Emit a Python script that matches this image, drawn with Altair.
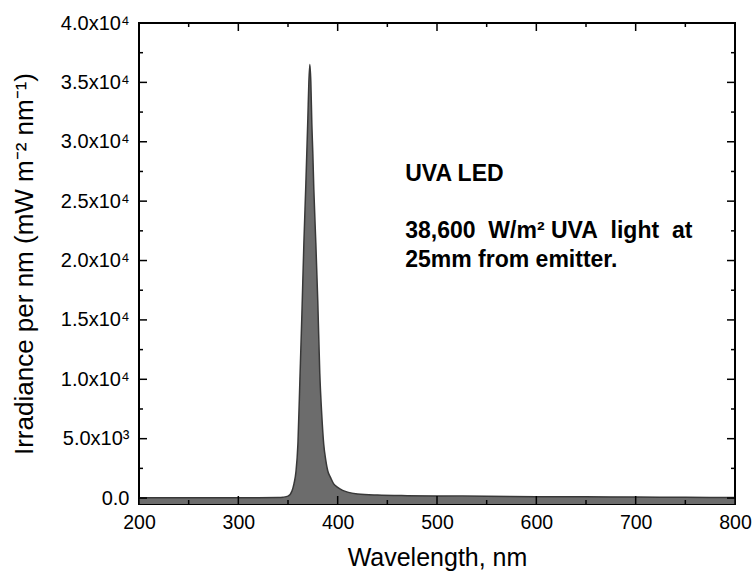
import altair as alt
import pandas as pd

# Spectrum (wavelength nm, irradiance mW m-2 nm-1)
wavelength = [200, 250, 300, 320, 340, 345, 350, 354, 356, 358, 360, 362, 364, 366,
              368, 370, 371, 372, 373, 374, 375, 376, 378, 380, 382, 384, 386, 388,
              390, 393, 396, 400, 405, 410, 420, 440, 470, 500, 550, 600, 650, 700,
              750, 800]
irradiance = [20, 20, 25, 25, 40, 70, 160, 600, 1200, 2200, 4600, 10000, 15500, 21500,
              26500, 32000, 35000, 36500, 35000, 31500, 29000, 26000, 21500, 16500,
              10500, 7000, 4500, 3200, 2300, 1700, 1200, 900, 650, 500, 350, 250, 200,
              180, 150, 120, 100, 80, 60, 50]

x_major = [200, 300, 400, 500, 600, 700, 800]
x_minor = [250, 350, 450, 550, 650, 750]
y_major = [0, 5000, 10000, 15000, 20000, 25000, 30000, 35000, 40000]
y_minor = [2500, 7500, 12500, 17500, 22500, 27500, 32500, 37500]

note_lines = ["UVA LED",
              "38,600\u00a0 W/m\u00b2 UVA\u00a0 light\u00a0 at",
              "25mm from emitter."]
note_x = [468, 468, 468]
note_y = [26700, 21900, 19450]

W, H = 596, 481
X_DOM = [200, 800]
Y_DOM = [-500, 40000]

spec = pd.DataFrame({"wl": wavelength, "irr": irradiance})
xs = alt.Scale(domain=X_DOM, nice=False, zero=False)
ys = alt.Scale(domain=Y_DOM, nice=False, zero=False)

ylabel = ("datum.value == 0 ? '0.0' : (datum.value >= 10000 ? "
          "format(datum.value/10000, '.1f') + 'x10\u2074' : "
          "format(datum.value/1000, '.1f') + 'x10\u00b3')")

XT = "Wavelength, nm"
YT = "Irradiance per nm (mW m\u207b\u00b2 nm\u207b\u00b9)"

x_axis = alt.Axis(values=x_major, title=XT, tickSize=0, domain=False,
                  grid=False, labelPadding=9, labelFontSize=19.5, titleFontSize=25,
                  titleFontWeight="normal", titlePadding=14, labelColor="#000",
                  titleColor="#000", labelFlush=False)
y_axis = alt.Axis(values=y_major, title=YT,
                  tickSize=0, domain=False, grid=False, labelPadding=10,
                  labelFontSize=20, titleFontSize=26, titleFontWeight="normal",
                  titlePadding=23, labelExpr=ylabel, labelColor="#000",
                  titleColor="#000", labelFlush=False)

def X(field):
    return alt.X(field, scale=xs, axis=x_axis, title=XT)

def Y(field):
    return alt.Y(field, scale=ys, axis=y_axis, title=YT)

base = alt.Chart(spec)
area = base.mark_area(color="#6c6c6c", interpolate="monotone", clip=True).encode(
    x=X("wl:Q"), y=Y("irr:Q"), y2=alt.datum(Y_DOM[0]))
line = base.mark_line(color="#383838", strokeWidth=1.5, interpolate="monotone",
                      clip=True).encode(x=X("wl:Q"), y=Y("irr:Q"))

def xticks(vals, length):
    d = alt.Chart(pd.DataFrame({"wl": vals}))
    b = d.mark_rule(color="black", strokeWidth=1.5).encode(
        x=X("wl:Q"), y=alt.value(H), y2=alt.value(H - length))
    t = d.mark_rule(color="black", strokeWidth=1.5).encode(
        x=X("wl:Q"), y=alt.value(0), y2=alt.value(length))
    return [b, t]

def yticks(vals, length):
    d = alt.Chart(pd.DataFrame({"irr": vals}))
    l = d.mark_rule(color="black", strokeWidth=1.5).encode(
        y=Y("irr:Q"), x=alt.value(0), x2=alt.value(length))
    r = d.mark_rule(color="black", strokeWidth=1.5).encode(
        y=Y("irr:Q"), x=alt.value(W - length), x2=alt.value(W))
    return [l, r]

notes = alt.Chart(pd.DataFrame({"t": note_lines, "wl": note_x, "irr": note_y})).mark_text(
    align="left", baseline="alphabetic", fontSize=23, fontWeight="bold", color="black",
    font="Liberation Sans").encode(x=X("wl:Q"), y=Y("irr:Q"), text="t:N")

layers = [area, line] + xticks(x_major, 8) + xticks(x_minor, 4) + \
    yticks(y_major, 8) + yticks(y_minor, 4) + [notes]

chart = alt.layer(*layers).properties(
    width=W, height=H,
    autosize=alt.AutoSizeParams(type="none"),
    padding={"left": 139, "top": 23, "right": 18, "bottom": 69},
    background="white",
).configure(
    font="Liberation Sans",
    view=alt.ViewConfig(stroke="black", strokeWidth=2),
)

chart.save("out.html", embed_options={"renderer": "svg", "actions": False})
